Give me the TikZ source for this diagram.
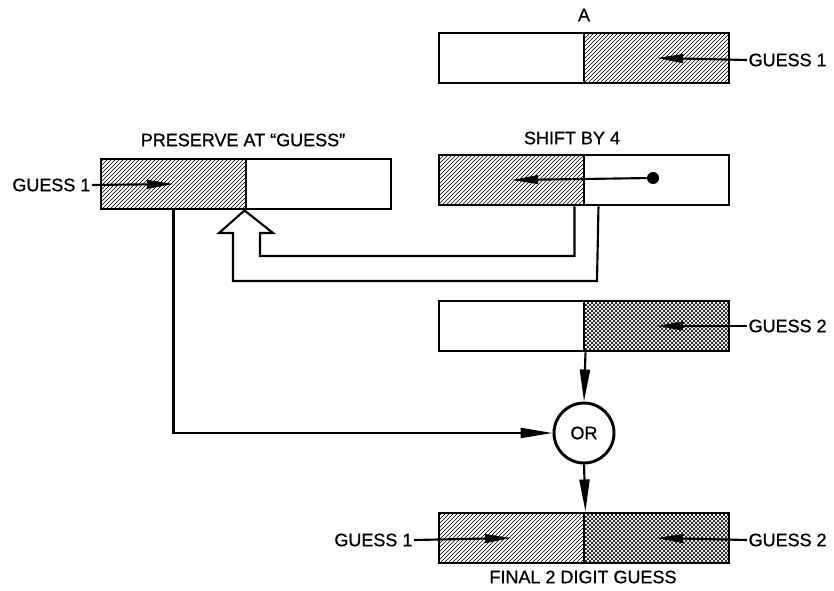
\documentclass[tikz,border=0pt]{standalone}
\usepackage{fontspec}
\setmainfont{Liberation Sans}[FakeBold=0.8]
\usetikzlibrary{arrows.meta,
                calc,
                patterns}

\begin{document}
\begin{tikzpicture}[x=0.75pt, y=-0.75pt,
half/.style    = {draw, line width=2.2pt, minimum width=108.75pt,
                  minimum height=37.5pt, inner sep=0pt},
hatched/.style = {half, pattern=north east lines},
crossed/.style = {half, pattern=crosshatch},
txt/.style     = {font=\fontsize{13.5pt}{15pt}\selectfont, inner sep=1pt},
flow/.style    = {draw, line width=1.6pt,
                  -{Triangle[length=20pt,width=6.5pt]}},
feed/.style    = {flow, -{Triangle[length=24pt,width=7.5pt]}}
                    ]
\useasboundingbox (0,0) rectangle (834,591);
% registers
\node[half]    (aL) at (511.5,58)  {};
\node[hatched] (aR) at (656.5,58)  {};
\node[hatched] (pL) at (173.5,184) {};
\node[half]    (pR) at (318.5,184) {};
\node[hatched] (sL) at (511.5,180) {};
\node[half]    (sR) at (656.5,180) {};
\node[half]    (gL) at (511.5,326) {};
\node[crossed] (gR) at (656.5,326) {};
\node[hatched] (fL) at (511.5,538) {};
\node[crossed] (fR) at (656.5,538) {};
\node[draw, circle, line width=2.2pt, minimum size=45pt, txt]
               (or) at (584,433) {OR};
% texts
\node[txt] (tA)     at (584,15)  {A};
\node[txt] (tPres)  at (243,140) {PRESERVE AT ``GUESS''};
\node[txt] (tShift) at (572,138) {SHIFT BY 4};
\node[txt] (tFinal) at (583,577) {FINAL 2 DIGIT GUESS};
\node[txt, anchor=west] (gA)  at (747,60)  {GUESS 1};
\node[txt, anchor=east] (gP)  at (92,185)  {GUESS 1};
\node[txt, anchor=west] (gG2) at (747,326) {GUESS 2};
\node[txt, anchor=east] (gF1) at (414,540) {GUESS 1};
\node[txt, anchor=west] (gF2) at (747,540) {GUESS 2};
\node[circle, fill, inner sep=0pt, minimum size=9pt] (dot) at (653,178) {};
%
\draw[flow] (gA.west)  -- (aR.center);
\draw[flow] (gP.east)  -- (pL.center);
\draw[flow] (dot)      -- (sL.center);
\draw[flow] (gG2.west) -- (gR.center);
\draw[flow] (gF1.east) -- (fL.center);
\draw[flow] (gF2.west) -- (fR.center);
\draw[feed] (pL.south) |- (or.west);
\draw[feed] (gL.south east) -- (or.north);
\draw[feed] (or.south) -- (fL.north east);
% hollow return arrow
\draw[line width=1.6pt, line join=miter]
    ($(sL.south east)+(-11,0)$) |- (260,256) -- (260,233) -- (273,233)
    -- (pR.south west) -- (219,233) -- (233,233) |- (597,281)
    -- ($(sL.south east)+(13,0)$);
\end{tikzpicture}
\end{document}
